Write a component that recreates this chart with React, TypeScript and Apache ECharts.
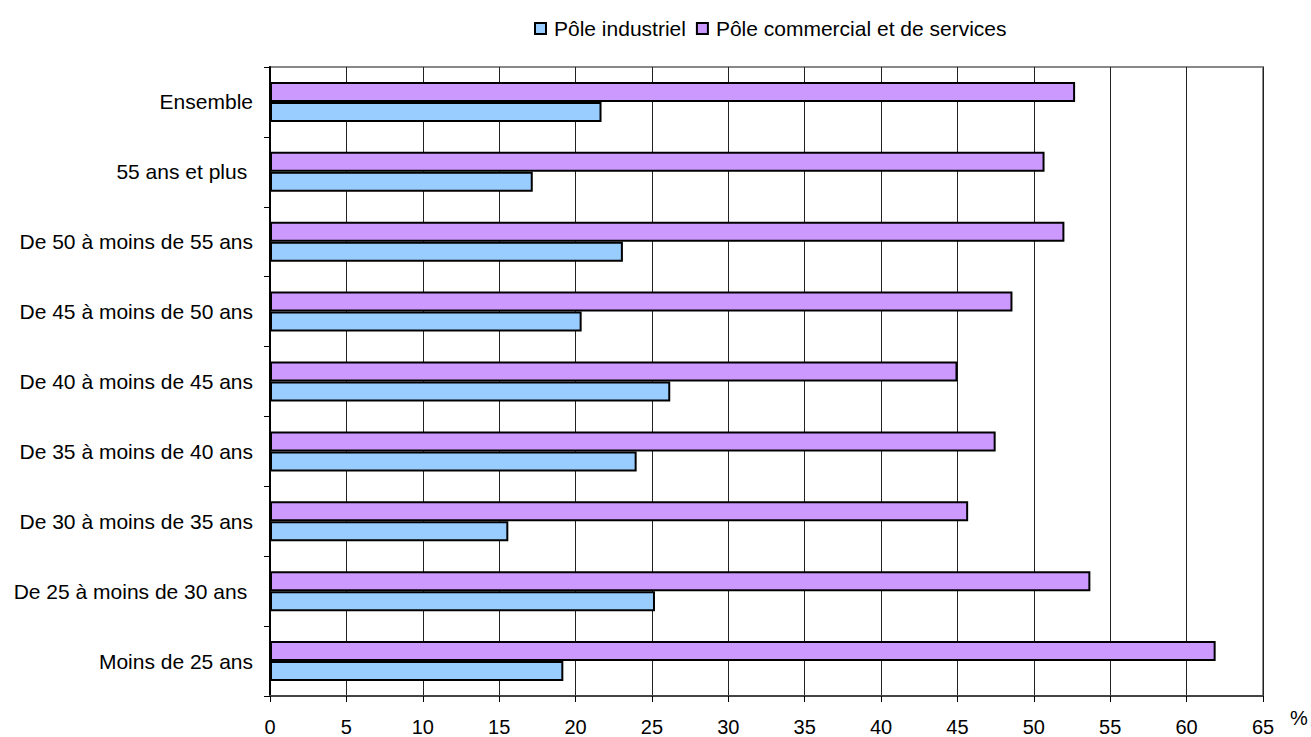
import React, { useEffect, useRef } from "react";
import * as echarts from "echarts";

const categories = [
  "Ensemble",
  "55 ans et plus ",
  "De 50 à moins de 55 ans",
  "De 45 à moins de 50 ans",
  "De 40 à moins de 45 ans",
  "De 35 à moins de 40 ans",
  "De 30 à moins de 35 ans",
  "De 25 à moins de 30 ans ",
  "Moins de 25 ans",
];
const industriel = [21.7, 17.2, 23.1, 20.4, 26.2, 24.0, 15.6, 25.2, 19.2];
const commercial = [52.7, 50.7, 52.0, 48.6, 45.0, 47.5, 45.7, 53.7, 61.9];
const seriesNames = ["Pôle industriel", "Pôle commercial et de services"];

const FONT = "Liberation Sans, Arial, sans-serif";

export default function App() {
  const ref = useRef<HTMLDivElement>(null);
  useEffect(() => {
    if (!ref.current) return;
    const chart = echarts.init(ref.current, null, { renderer: "svg" });
    chart.setOption({
      animation: false,
      backgroundColor: "#fff",
      textStyle: { fontFamily: FONT },
      legend: {
        left: 529,
        top: 13,
        padding: 5,
        icon: "rect",
        itemWidth: 11,
        itemHeight: 11,
        itemGap: 10,
        itemStyle: { borderColor: "#000", borderWidth: 2 },
        textStyle: { fontSize: 21, color: "#000", fontFamily: FONT, padding: [0, 0, 0, 3] },
        data: seriesNames,
      },
      grid: {
        left: 270,
        right: 48,
        top: 67,
        bottom: 40,
        show: true,
        borderColor: "#888",
        borderWidth: 2,
        containLabel: false,
      },
      xAxis: {
        type: "value",
        min: 0,
        max: 65,
        interval: 5,
        axisLine: { show: true, lineStyle: { color: "#444", width: 2 } },
        axisTick: { show: true, length: 6, lineStyle: { color: "#000" } },
        axisLabel: { fontSize: 20, color: "#000", margin: 21, fontFamily: FONT },
        splitLine: { show: true, lineStyle: { color: "#222", width: 1 } },
      },
      yAxis: {
        type: "category",
        inverse: true,
        data: categories,
        axisLine: { show: true, lineStyle: { color: "#000", width: 2 } },
        axisTick: { show: true, length: 6, lineStyle: { color: "#000" } },
        axisLabel: { fontSize: 21, color: "#000", margin: 17, fontFamily: FONT },
        splitLine: { show: false },
      },
      graphic: [
        {
          type: "text",
          left: 1290,
          top: 708,
          style: { text: "%", fontSize: 20, fill: "#000", fontFamily: FONT },
        },
      ],
      series: [
        {
          name: seriesNames[1],
          type: "bar",
          data: commercial,
          barWidth: 20,
          barGap: "0%",
          itemStyle: { color: "#CC99FF", borderColor: "#000", borderWidth: 2 },
        },
        {
          name: seriesNames[0],
          type: "bar",
          data: industriel,
          barWidth: 20,
          barGap: "0%",
          itemStyle: { color: "#99CCFF", borderColor: "#000", borderWidth: 2 },
        },
      ],
    });
    return () => chart.dispose();
  }, []);
  return (
    <div
      ref={ref}
      style={{ position: "fixed", left: 0, top: 0, width: 1311, height: 737 }}
    />
  );
}
